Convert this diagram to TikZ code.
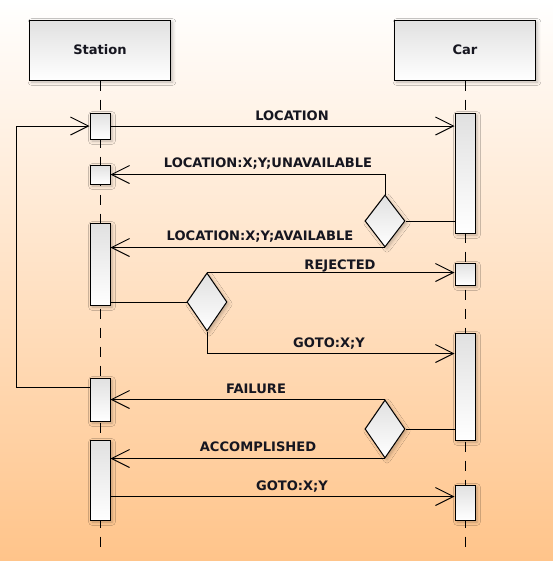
\documentclass[tikz,border=0pt]{standalone}
\usepackage{fontspec}
\setmainfont{DejaVu Sans}
\usetikzlibrary{arrows.meta,shapes.geometric,shadows.blur}
\definecolor{hinten}{RGB}{255,196,138}
\definecolor{schrift}{RGB}{22,22,32}

\begin{document}
\def\balken#1#2#3#4{
\node[balken,minimum height={(#4-#3)*0.75pt}] (#1) at (#2,{(#3+#4)/2}) {};
}
\def\raute#1#2#3#4{
\node[raute,minimum height={#4*0.75pt}] (#1) at (#2,#3) {};
}

\begin{tikzpicture}[x=0.75pt,y=-0.75pt,line width=0.75pt,
	>={Straight Barb[length=13.5pt,width=13.5pt]},
	kasten/.style={draw,top color=black!12,bottom color=white,
		blur shadow={shadow xshift=1.5pt,shadow yshift=-1.5pt,
		shadow opacity=25,shadow blur radius=2.5pt}},
	kopf/.style={kasten,minimum width=105.75pt,minimum height=45pt,
		font=\bfseries\fontsize{9.8}{12}\selectfont,text=schrift},
	balken/.style={kasten,minimum width=15pt,inner sep=0pt},
	raute/.style={kasten,diamond,minimum width=30pt,inner sep=0pt},
	beschr/.style={anchor=base,inner sep=0pt,
		font=\bfseries\fontsize{9.8}{12}\selectfont,text=schrift},
	leben/.style={dash pattern=on 7.5pt off 6.75pt}]
\shade[top color=white,bottom color=hinten] (0,0) rectangle (553,561);
\node[kopf] (station) at (100,50) {Station};
\node[kopf] (car) at (465,50) {Car};
\coordinate (s_ende) at (100,550);
\coordinate (c_ende) at (465,550);
\draw[leben] (station.south) -- (s_ende);
\draw[leben] (car.south) -- (c_ende);
\balken{a1}{100}{113}{139}
\balken{a2}{100}{165}{184}
\balken{a3}{100}{223}{305}
\balken{a4}{100}{378}{421}
\balken{a5}{100}{440}{520}
\balken{c1}{465}{113}{233}
\balken{c2}{465}{263}{285}
\balken{c3}{465}{333}{440}
\balken{c4}{465}{485}{520}
\raute{d1}{385}{221}{52}
\raute{d2}{207}{302}{58}
\raute{d3}{385}{429}{58}
\coordinate (ruecklauf) at ([yshift=-7.5pt]a4.north west);
\coordinate (goto1) at ([yshift=-15.75pt]c3.north west);
\coordinate (goto2) at ([yshift=-9pt]c4.north west);
\draw[->] (a1.east) -- (a1.east -| c1.west);
\draw[->] (d1.north) |- (a2.east);
\draw (c1.west |- d1.east) -- (d1.east);
\draw[->] (d1.south) -- (d1.south -| a3.east);
\draw (a3.east |- d2.west) -- (d2.west);
\draw[->] (d2.north) -- (d2.north -| c2.west);
\draw[->] (d2.south) |- (goto1);
\draw (c3.west |- d3.east) -- (d3.east);
\draw[->] (d3.north) -- (d3.north -| a4.east);
\draw[->] (d3.south) -- (d3.south -| a5.east);
\draw[->] (a5.east |- goto2) -- (goto2);
\draw[->] (ruecklauf) -- ++(-73,0) |- (a1.west);
\node[beschr] (t1) at (292,120) {LOCATION};
\node[beschr] (t2) at (268,167) {LOCATION:X;Y;UNAVAILABLE};
\node[beschr] (t3) at (260,240) {LOCATION:X;Y;AVAILABLE};
\node[beschr] (t4) at (340,269) {REJECTED};
\node[beschr] (t5) at (329,347) {GOTO:X;Y};
\node[beschr] (t6) at (256,393) {FAILURE};
\node[beschr] (t7) at (258,451) {ACCOMPLISHED};
\node[beschr] (t8) at (292,490) {GOTO:X;Y};
\end{tikzpicture}
\end{document}
